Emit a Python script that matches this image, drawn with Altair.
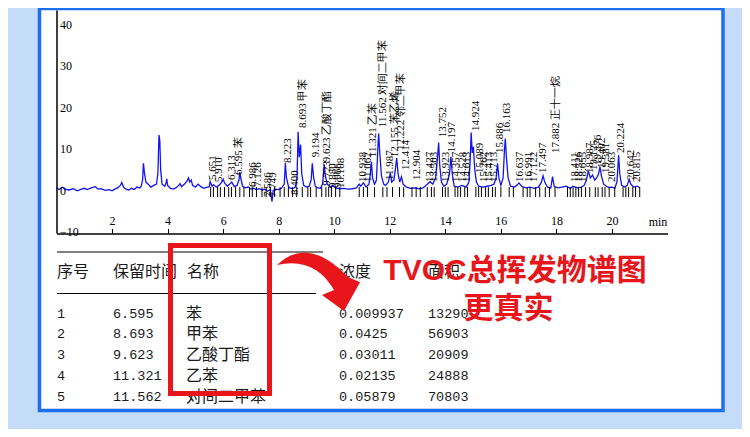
import altair as alt
import pandas as pd

# ---------------- chromatogram signal ----------------
sig_time = [
    0.0, 0.1, 0.2, 0.3, 0.45, 0.6, 0.75, 0.9, 1.0, 1.1, 1.25, 1.4, 1.5, 1.6, 1.75, 1.9, 2.0, 2.1, 2.2, 2.3,
    2.35, 2.42, 2.5, 2.6, 2.7, 2.8, 2.9, 3.0,
    3.05, 3.1, 3.13, 3.17, 3.22, 3.3, 3.4, 3.5, 3.6, 3.65, 3.69, 3.72, 3.75, 3.8, 3.9, 3.95, 3.97, 4.0,
    4.1, 4.2, 4.3, 4.4, 4.45, 4.5, 4.6, 4.7, 4.75, 4.8, 4.85, 4.9, 5.0, 5.1, 5.2, 5.3, 5.4, 5.5,
    5.53, 5.6, 5.65, 5.75, 5.85, 5.95, 6.0, 6.05, 6.15, 6.25, 6.31, 6.4, 6.5, 6.57, 6.6, 6.64, 6.7, 6.8,
    6.9, 7.0, 7.1, 7.2, 7.3, 7.4, 7.5, 7.6, 7.7, 7.76, 7.8, 7.9, 8.0,
    8.1, 8.2, 8.24, 8.28, 8.35, 8.4, 8.5, 8.6, 8.66, 8.70, 8.74, 8.79, 8.83, 8.9, 9.0, 9.1, 9.17, 9.21,
    9.26, 9.32, 9.4, 9.5, 9.58, 9.64, 9.68, 9.75, 9.85, 9.95, 10.05, 10.2, 10.35, 10.5, 10.65, 10.8,
    10.9, 10.95, 11.05, 11.15, 11.25, 11.3, 11.34, 11.38, 11.45, 11.52, 11.57, 11.6, 11.64, 11.7, 11.78,
    11.85, 11.95, 12.02, 12.07, 12.15, 12.2, 12.25, 12.3, 12.36, 12.42, 12.48, 12.6, 12.75, 12.9, 13.05, 13.2,
    13.3, 13.4, 13.45, 13.55, 13.65, 13.72, 13.76, 13.8, 13.86, 13.95, 14.05, 14.15, 14.2, 14.25, 14.32,
    14.45, 14.6, 14.75, 14.85, 14.9, 14.93, 14.97, 15.01, 15.06, 15.12, 15.2, 15.35, 15.5, 15.65, 15.75,
    15.83, 15.88, 15.93, 16.0,
    16.08, 16.13, 16.16, 16.2, 16.26, 16.35, 16.5, 16.6, 16.65, 16.75, 16.9, 17.05, 17.2, 17.35, 17.45,
    17.52, 17.58, 17.68, 17.8, 17.86, 17.92, 18.05, 18.2, 18.35, 18.5, 18.6, 18.75, 18.9, 19.0, 19.08,
    19.15, 19.22, 19.3, 19.38, 19.45, 19.52, 19.57, 19.62, 19.7, 19.8, 19.9, 20.0, 20.1, 20.18, 20.24,
    20.28, 20.35, 20.45, 20.55, 20.62, 20.68, 20.78, 20.9, 21.0,
]
sig_value = [
    0.6, 0.2, 0.8, 0.3, 0.1, 0.4, -0.1, 0.3, 0.5, 0.2, 0.6, 0.9, 0.3, 0.4, 0.0, 0.2, -0.1, 0.3, 0.6, 1.2,
    1.9, 0.7, 0.3, 0.1, 0.5, 0.2, 0.8, 0.6,
    1.0, 2.5, 6.5, 4.0, 2.0, 1.5, 0.8, 1.2, 1.5, 4.0, 13.3, 12.0, 5.0, 1.5, 1.0, 2.0, 2.8, 1.2,
    0.5, 0.3, 0.6, 1.2, 1.6, 0.9, 1.5, 2.2, 3.0, 2.0, 2.5, 1.2, 0.8, 1.5, 0.9, 0.5, 0.7, 0.9,
    2.1, 1.0, 1.4, 0.8, 1.2, 2.0, 2.7, 1.8, 1.0, 1.6, 2.0, 0.9, 1.2, 2.5, 4.4, 2.8, 1.0, 0.6,
    0.8, 0.3, 0.5, 0.2, 0.4, 0.1, 0.3, -0.2, 0.2, -2.7, 0.0, 0.3, 0.2,
    0.5, 1.5, 6.6, 3.0, 1.0, 0.6, 0.4, 0.8, 3.0, 14.1, 8.0, 11.0, 4.0, 1.2, 0.8, 1.0, 2.5, 6.5,
    3.0, 1.0, 0.6, 0.5, 1.5, 6.3, 3.5, 1.5, 0.8, 1.2, 0.6, 0.4, 0.5, 0.3, 0.4, 0.6,
    1.5, 1.0, 1.8, 0.8, 1.5, 4.0, 6.9, 3.0, 1.5, 2.5, 10.0, 13.7, 9.0, 3.5, 1.5,
    1.2, 2.0, 4.2, 2.0, 2.5, 5.0, 7.8, 4.0, 2.0, 3.3, 1.5, 0.8, 0.5, 0.6, 0.4, 0.6,
    1.2, 1.8, 2.1, 1.5, 3.0, 8.0, 11.5, 6.0, 2.0, 1.0, 1.5, 4.0, 8.1, 4.0, 1.0,
    0.8, 1.2, 0.8, 2.0, 8.0, 13.9, 9.0, 10.5, 5.0, 2.0, 1.0, 0.8, 1.0, 1.2, 1.5,
    3.0, 6.5, 3.0, 1.2,
    3.0, 9.7, 12.5, 8.0, 3.0, 1.0, 0.8, 1.4, 1.8, 1.0, 0.6, 0.8, 0.5, 0.8, 1.8,
    3.5, 2.0, 0.8, 0.6, 3.3, 1.0, 0.6, 0.8, 1.0, 0.5, 1.0, 0.6, 0.8, 1.2, 2.5,
    4.7, 3.0, 3.7, 2.5, 3.0, 4.0, 5.7, 3.5, 1.5, 1.0, 0.7, 0.8, 0.5, 2.0, 8.5,
    4.0, 1.2, 0.8, 1.2, 2.7, 1.5, 0.8, 1.0, 0.7,
]
assert len(sig_time) == len(sig_value)

# ---------------- peak labels (vertical text) ----------------
peak_label_time = [
    5.637, 5.853, 6.303, 6.573, 7.077, 7.239, 7.599, 7.779, 8.337, 8.589, 8.877, 9.327, 9.741, 9.741,
    9.957, 10.119, 10.245, 11.037, 11.199, 11.397, 11.757, 12.009, 12.189, 12.405, 12.585, 12.981,
    13.449, 13.575, 13.899, 14.007, 14.258, 14.384, 14.636, 14.78, 15.104, 15.266, 15.41, 15.572,
    15.752, 15.968, 16.238, 16.688, 17.012, 17.192, 17.516, 18.002, 18.668, 18.812, 18.956, 19.208,
    19.352, 19.496, 19.64, 19.802, 20.006, 20.324, 20.702, 20.918,
]
peak_label_base = [
    2.5, 2.0, 2.5, 3.7, 0.8, 0.8, -1.6, -1.6, 6.6, -1.1, 15.0, 8.0, 6.8, 1.1,
    0.6, 0.6, 0.6, 2.0, 2.0, 8.0, 15.2, 2.5, 8.0, 9.7, 4.9, 2.5,
    2.0, 2.0, 12.8, 2.0, 9.2, 2.0, 2.0, 2.0, 14.3, 4.2, 2.0, 2.0,
    2.0, 9.0, 13.8, 2.0, 2.0, 2.0, 4.2, 9.0, 2.0, 2.0, 2.0, 4.2,
    4.9, 6.1, 5.4, 4.2, 2.0, 9.0, 2.5, 2.0,
]
peak_label_text = [
    "5.651", "5.910", "6.313", "6.595 苯", "6.986", "7.126", "7.586", "7.749", "8.223", "8.400",
    "8.693 甲苯", "9.194", "9.623 乙酸丁酯", "9.723",
    "9.880", "9.966", "10.108", "10.938", "11.062", "11.321 乙苯", "11.562 对间二甲苯", "11.987",
    "12.155 苯乙烯", "12.222 邻二甲苯", "12.414", "12.904",
    "13.427", "13.503", "13.752", "13.923", "14.197", "14.357", "14.528", "14.613", "14.924", "15.089",
    "15.262", "15.413", "15.713", "15.886", "16.163", "16.637", "16.991", "17.122", "17.497",
    "17.882 正十一烷", "18.411", "18.526", "18.655", "18.987", "19.125", "19.276", "19.402", "19.581",
    "20.063", "20.224", "20.642", "20.815",
]

# integration marks under the baseline
mark_time = [
    5.55, 5.65, 5.8, 5.9, 6.05, 6.2, 6.3, 6.45, 6.6, 6.75, 6.95, 7.05, 7.2, 7.4, 7.55, 7.7, 7.85,
    8.05, 8.2, 8.35, 8.5, 8.65, 8.85, 9.05, 9.15, 9.35, 9.55, 9.7, 9.8, 9.9, 10.05, 10.2, 10.9,
    11.05, 11.2, 11.45, 11.75, 11.9, 12.1, 12.35, 12.5, 12.8, 12.95, 13.1, 13.35, 13.5, 13.6,
    13.9, 14.0, 14.1, 14.35, 14.45, 14.55, 14.7, 14.8, 15.1, 15.2, 15.3, 15.45, 15.55, 15.7,
    15.8, 16.0, 16.3, 16.45, 16.8, 16.95, 17.05, 17.25, 17.4, 17.6, 17.75, 17.95, 18.4, 18.5,
    18.6, 18.7, 18.8, 18.9, 19.05, 19.2, 19.4, 19.5, 19.65, 19.75, 19.9, 20.1, 20.4, 20.5,
    20.6, 20.75, 20.85, 21.0,
]
mark_low = -1.6
mark_high = 0.8

x_tick_values = [2, 4, 6, 8, 10, 12, 14, 16, 18, 20]
y_tick_values = [40, 30, 20, 10, 0, -10]

# ---------------- table ----------------
table_headers = ["序号", "保留时间", "名称", "浓度", "面积"]
table_no = ["1", "2", "3", "4", "5"]
table_rt = ["6.595", "8.693", "9.623", "11.321", "11.562"]
table_name = ["苯", "甲苯", "乙酸丁酯", "乙苯", "对间二甲苯"]
table_conc = ["0.009937", "0.0425", "0.03011", "0.02135", "0.05879"]
table_area = ["13290", "56903", "20909", "24888", "70803"]
table_rows = [1, 2, 3, 4, 5]

headline_1 = "TVOC总挥发物谱图"
headline_2 = "更真实"

# ---------------- styling ----------------
W, H = 734, 421
RED = "#e8151b"
BLUE_LINE = "#1414f0"
CJK = "Noto Sans CJK SC"
HEAD_FONT = "'Liberation Sans', 'Noto Sans CJK SC'"
SERIF = "Liberation Serif"
MONO = "Liberation Mono"

XS = alt.Scale(domain=[0, 22], range=[48.5, 659.5], nice=False, zero=False)
YS = alt.Scale(domain=[-10.25, 43.4], range=[225, 2], nice=False, zero=False)
RS = alt.Scale(domain=[-1, 5], range=[264, 388.5], nice=False, zero=False)

one = pd.DataFrame({"k": [0]})

box = alt.Chart(one).mark_rect(fill="white", stroke="#1d6ff0", strokeWidth=3.5).encode(
    x=alt.value(31.5), x2=alt.value(715), y=alt.value(0.5), y2=alt.value(402.5)
)

sig_df = pd.DataFrame({"t": sig_time, "v": sig_value})
signal = alt.Chart(sig_df).mark_line(color=BLUE_LINE, strokeWidth=1.3).encode(
    x=alt.X("t:Q", scale=XS, axis=alt.Axis(
        orient="top", offset=-225.5, values=x_tick_values, title=None, grid=False,
        domainColor="black", domainWidth=1.5, tickColor="black", tickSize=5, tickWidth=1,
        labelFont=SERIF, labelFontSize=12, labelColor="black", labelPadding=1,
        labelFlush=False, labelOverlap=False, zindex=1)),
    y=alt.Y("v:Q", scale=YS, axis=alt.Axis(
        orient="right", offset=-685.5, values=y_tick_values, title=None, grid=False,
        domainColor="black", domainWidth=1.5, ticks=False,
        labelFont=SERIF, labelFontSize=12, labelColor="black", labelPadding=3,
        labelFlush=False, labelOverlap=False, zindex=1)),
)

marks_df = pd.DataFrame({"t": mark_time, "lo": [mark_low] * len(mark_time), "hi": [mark_high] * len(mark_time)})
int_marks = alt.Chart(marks_df).mark_rule(color="black", strokeWidth=1).encode(
    x=alt.X("t:Q", scale=XS, axis=None),
    y=alt.Y("lo:Q", scale=YS, axis=None),
    y2="hi:Q",
)

lab_df = pd.DataFrame({"t": peak_label_time, "b": peak_label_base, "s": peak_label_text})
peak_labels = alt.Chart(lab_df).mark_text(
    angle=270, align="left", baseline="middle", font=SERIF, fontSize=11, color="black"
).encode(
    x=alt.X("t:Q", scale=XS, axis=None),
    y=alt.Y("b:Q", scale=YS, axis=None),
    text="s:N",
)

min_label = alt.Chart(pd.DataFrame({"s": ["min"]})).mark_text(
    font=SERIF, fontSize=12, color="black", align="center", baseline="middle"
).encode(x=alt.value(650), y=alt.value(214), text="s:N")

rule1 = alt.Chart(one).mark_rule(color="black", strokeWidth=1).encode(
    x=alt.value(49), x2=alt.value(315), y=alt.value(244))
rule2 = alt.Chart(one).mark_rule(color="black", strokeWidth=1).encode(
    x=alt.value(49), x2=alt.value(308), y=alt.value(285.5))

layers = [box, signal, int_marks, peak_labels, min_label, rule1, rule2]

header_x = [49, 105, 179, 331, 420]
for hx, htxt in zip(header_x, table_headers):
    hdf = pd.DataFrame({"r": [-1], "s": [htxt]})
    layers.append(alt.Chart(hdf).mark_text(
        font=CJK, fontSize=16, color="#1a1a1a", align="left", baseline="middle"
    ).encode(x=alt.value(hx), y=alt.Y("r:Q", scale=RS, axis=None), text="s:N"))

col_specs = [
    (49, table_no, MONO, 13.5),
    (105, table_rt, MONO, 13.5),
    (178, table_name, CJK, 16),
    (331, table_conc, MONO, 13.5),
    (420, table_area, MONO, 13.5),
]
for cx, vals, fnt, fs in col_specs:
    cdf = pd.DataFrame({"r": table_rows, "s": vals})
    layers.append(alt.Chart(cdf).mark_text(
        font=fnt, fontSize=fs, color="#1a1a1a", align="left", baseline="middle"
    ).encode(x=alt.value(cx), y=alt.Y("r:Q", scale=RS, axis=None), text="s:N"))

red_box = alt.Chart(one).mark_rect(fillOpacity=0, stroke=RED, strokeWidth=5).encode(
    x=alt.value(162.5), x2=alt.value(261.5), y=alt.value(237.5), y2=alt.value(385.5))

arrow_path = ("M-1.025,-0.4Q-0.25,-1.15,0.75,-0.1L1.05,0.03L0.65,0.75L0.1,0.35"
              "L0.4,0.225Q-0.0875,-0.6125,-1.025,-0.4Z")
arrow = alt.Chart(one).mark_point(
    shape=arrow_path, size=6400, filled=True, color=RED, opacity=1, strokeWidth=0
).encode(x=alt.value(310), y=alt.value(273))

head1 = alt.Chart(pd.DataFrame({"s": [headline_1]})).mark_text(
    font=HEAD_FONT, fontSize=30, fontWeight="bold", color=RED, align="center", baseline="middle"
).encode(x=alt.value(507), y=alt.value(262.5), text="s:N")
head2 = alt.Chart(pd.DataFrame({"s": [headline_2]})).mark_text(
    font=HEAD_FONT, fontSize=30, fontWeight="bold", color=RED, align="center", baseline="middle"
).encode(x=alt.value(500.5), y=alt.value(300.5), text="s:N")

layers += [red_box, arrow, head1, head2]

chart = alt.layer(*layers).resolve_scale(
    x="independent", y="independent"
).properties(
    width=W, height=H, padding=0, background="#c5dcf8",
    autosize=alt.AutoSizeParams(type="none"),
).configure_view(stroke=None)

chart.save("out.html", embed_options={"renderer": "svg", "actions": False})
